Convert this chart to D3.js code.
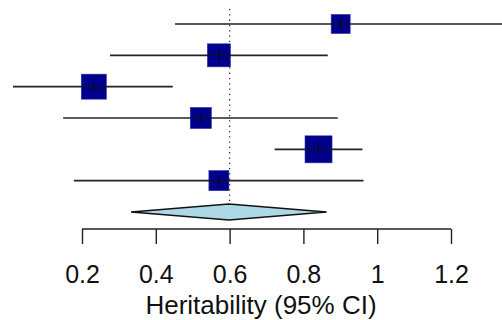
<!DOCTYPE html>
<html>
<meta charset="utf-8">
<script src="https://d3js.org/d3.v7.js"></script>
<style>
  body { margin: 0; background: #fff; }
  svg text { font-family: "Liberation Sans", Arial, sans-serif; }
</style>
<body>
<div id="my_dataviz"></div>
</body>
<script type="text/javascript">
  // study estimates (top to bottom) with 95% CI and weights
  var estimates = [0.901, 0.571, 0.232, 0.522, 0.841, 0.571];
  var lower     = [0.452, 0.276, 0.013, 0.149, 0.722, 0.178];
  var upper     = [1.45,  0.866, 0.446, 0.893, 0.960, 0.963];
  var weights   = [19, 23, 25, 21, 27, 20];
  // pooled estimate
  var pooled = {est: 0.598, lo: 0.333, hi: 0.863};
  var tickValues = [0.2, 0.4, 0.6, 0.8, 1, 1.2];
  var refLine = 0.6;

  var width = 502, height = 320;

  var svg = d3.select("#my_dataviz")
    .append("svg")
      .attr("width", width)
      .attr("height", height);

  var x = d3.scaleLinear()
    .domain([0.2, 1.2])
    .range([82, 451]);

  // rows 0..5 studies, row 6 pooled diamond
  var y = d3.scaleLinear()
    .domain([0, 6])
    .range([24, 212]);

  var size = d3.scaleLinear()
    .domain([19, 27])
    .range([19, 27]);

  var data = estimates.map(function(e, i) {
    return {est: e, lo: lower[i], hi: upper[i], w: weights[i], row: i};
  });

  // dotted reference line
  svg.append("line")
    .attr("x1", x(refLine)).attr("x2", x(refLine))
    .attr("y1", 9).attr("y2", 203)
    .attr("stroke", "#333")
    .attr("stroke-width", 1.3)
    .attr("stroke-dasharray", "1.3,4");

  // CI lines
  svg.selectAll(".ci")
    .data(data)
    .enter()
    .append("line")
      .attr("class", "ci")
      .attr("x1", function(d) { return x(d.lo) })
      .attr("x2", function(d) { return x(d.hi) })
      .attr("y1", function(d) { return y(d.row) })
      .attr("y2", function(d) { return y(d.row) })
      .attr("stroke", "#222")
      .attr("stroke-width", 1.7);

  // squares
  svg.selectAll(".sq")
    .data(data)
    .enter()
    .append("rect")
      .attr("class", "sq")
      .attr("x", function(d) { return x(d.est) - size(d.w) / 2 })
      .attr("y", function(d) { return y(d.row) - size(d.w) / 2 })
      .attr("width", function(d) { return size(d.w) })
      .attr("height", function(d) { return size(d.w) })
      .attr("fill", "#00008B")
      .attr("stroke", "#2a2ab0")
      .attr("stroke-width", 0.6);

  // small point marks
  svg.selectAll(".pt")
    .data(data)
    .enter()
    .append("line")
      .attr("class", "pt")
      .attr("x1", function(d) { return x(d.est) })
      .attr("x2", function(d) { return x(d.est) })
      .attr("y1", function(d) { return y(d.row) - 4 })
      .attr("y2", function(d) { return y(d.row) + 4 })
      .attr("stroke", "#000")
      .attr("stroke-width", 1);
  svg.selectAll(".ci2")
    .data(data)
    .enter()
    .append("line")
      .attr("x1", function(d) { return x(d.est) - size(d.w) / 2 })
      .attr("x2", function(d) { return x(d.est) + size(d.w) / 2 })
      .attr("y1", function(d) { return y(d.row) })
      .attr("y2", function(d) { return y(d.row) })
      .attr("stroke", "#111")
      .attr("stroke-width", 1.2);

  // pooled diamond
  var yp = y(6);
  svg.append("polygon")
    .attr("points", [
      [x(pooled.lo), yp],
      [x(pooled.est), yp - 8],
      [x(pooled.hi), yp],
      [x(pooled.est), yp + 8]
    ].map(function(p) { return p.join(",") }).join(" "))
    .attr("fill", "#ADD8E6")
    .attr("stroke", "#111")
    .attr("stroke-width", 1.3);

  // x axis
  var axis = svg.append("g")
    .attr("transform", "translate(0,229)")
    .call(d3.axisBottom(x)
      .tickValues(tickValues)
      .tickSize(15)
      .tickSizeOuter(0)
      .tickPadding(21)
      .tickFormat(function(d) { return d3.format("")(d) }));
  axis.select(".domain").attr("stroke", "#222").attr("stroke-width", 1.4)
    .attr("d", "M" + x(0.2) + ",0H" + x(1.2));
  axis.selectAll(".tick line").attr("stroke", "#222").attr("stroke-width", 1.4);
  axis.selectAll(".tick text")
    .attr("font-size", "25px")
    .attr("fill", "#111")
    .attr("font-family", "'Liberation Sans', Arial, sans-serif");

  svg.append("text")
    .attr("x", 261)
    .attr("y", 314)
    .attr("text-anchor", "middle")
    .attr("font-size", "26px")
    .attr("fill", "#111")
    .text("Heritability (95% CI)");
</script>
</html>
